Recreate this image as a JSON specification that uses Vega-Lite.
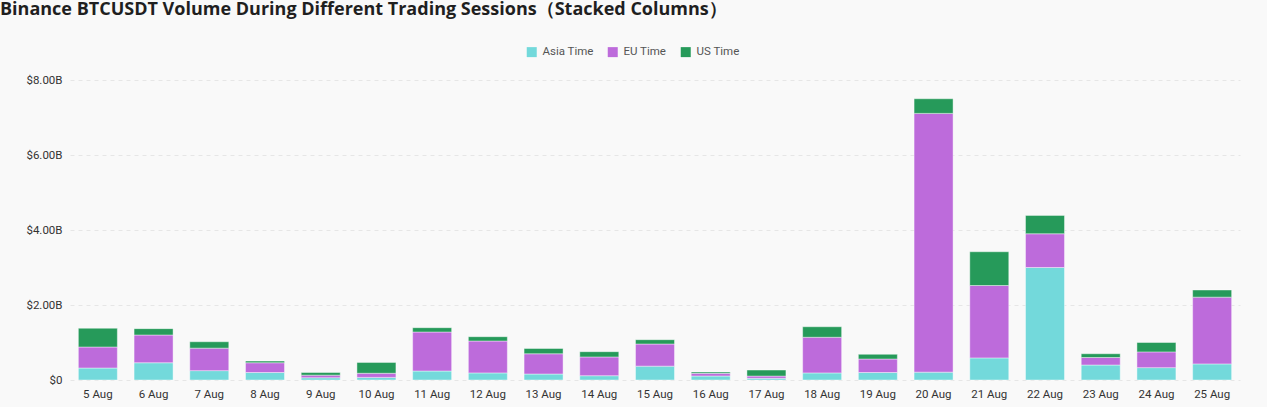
{
  "$schema": "https://vega.github.io/schema/vega-lite/v6.json",
  "width": 1170,
  "height": 300,
  "autosize": "none",
  "padding": {"left": 70, "top": 80, "right": 27, "bottom": 27},
  "background": "#f9f9f9",
  "title": {
    "text": "Binance BTCUSDT Volume During Different Trading Sessions（Stacked Columns）",
    "anchor": "start",
    "frame": "group",
    "dx": -70,
    "offset": 13,
    "baseline": "alphabetic",
    "font": "Open Sans",
    "fontSize": 18,
    "fontWeight": "bold",
    "color": "#1f1f1f"
  },
  "data": {
    "values": [
      {"date": "5 Aug", "session": "Asia Time", "volume": 0.32},
      {"date": "5 Aug", "session": "EU Time", "volume": 0.56},
      {"date": "5 Aug", "session": "US Time", "volume": 0.50},
      {"date": "6 Aug", "session": "Asia Time", "volume": 0.46},
      {"date": "6 Aug", "session": "EU Time", "volume": 0.74},
      {"date": "6 Aug", "session": "US Time", "volume": 0.17},
      {"date": "7 Aug", "session": "Asia Time", "volume": 0.25},
      {"date": "7 Aug", "session": "EU Time", "volume": 0.60},
      {"date": "7 Aug", "session": "US Time", "volume": 0.17},
      {"date": "8 Aug", "session": "Asia Time", "volume": 0.20},
      {"date": "8 Aug", "session": "EU Time", "volume": 0.26},
      {"date": "8 Aug", "session": "US Time", "volume": 0.045},
      {"date": "9 Aug", "session": "Asia Time", "volume": 0.06},
      {"date": "9 Aug", "session": "EU Time", "volume": 0.07},
      {"date": "9 Aug", "session": "US Time", "volume": 0.07},
      {"date": "10 Aug", "session": "Asia Time", "volume": 0.07},
      {"date": "10 Aug", "session": "EU Time", "volume": 0.11},
      {"date": "10 Aug", "session": "US Time", "volume": 0.29},
      {"date": "11 Aug", "session": "Asia Time", "volume": 0.24},
      {"date": "11 Aug", "session": "EU Time", "volume": 1.04},
      {"date": "11 Aug", "session": "US Time", "volume": 0.115},
      {"date": "12 Aug", "session": "Asia Time", "volume": 0.19},
      {"date": "12 Aug", "session": "EU Time", "volume": 0.85},
      {"date": "12 Aug", "session": "US Time", "volume": 0.115},
      {"date": "13 Aug", "session": "Asia Time", "volume": 0.16},
      {"date": "13 Aug", "session": "EU Time", "volume": 0.54},
      {"date": "13 Aug", "session": "US Time", "volume": 0.14},
      {"date": "14 Aug", "session": "Asia Time", "volume": 0.115},
      {"date": "14 Aug", "session": "EU Time", "volume": 0.50},
      {"date": "14 Aug", "session": "US Time", "volume": 0.14},
      {"date": "15 Aug", "session": "Asia Time", "volume": 0.37},
      {"date": "15 Aug", "session": "EU Time", "volume": 0.59},
      {"date": "15 Aug", "session": "US Time", "volume": 0.115},
      {"date": "16 Aug", "session": "Asia Time", "volume": 0.107},
      {"date": "16 Aug", "session": "EU Time", "volume": 0.07},
      {"date": "16 Aug", "session": "US Time", "volume": 0.036},
      {"date": "17 Aug", "session": "Asia Time", "volume": 0.045},
      {"date": "17 Aug", "session": "EU Time", "volume": 0.06},
      {"date": "17 Aug", "session": "US Time", "volume": 0.16},
      {"date": "18 Aug", "session": "Asia Time", "volume": 0.19},
      {"date": "18 Aug", "session": "EU Time", "volume": 0.95},
      {"date": "18 Aug", "session": "US Time", "volume": 0.28},
      {"date": "19 Aug", "session": "Asia Time", "volume": 0.20},
      {"date": "19 Aug", "session": "EU Time", "volume": 0.36},
      {"date": "19 Aug", "session": "US Time", "volume": 0.125},
      {"date": "20 Aug", "session": "Asia Time", "volume": 0.21},
      {"date": "20 Aug", "session": "EU Time", "volume": 6.90},
      {"date": "20 Aug", "session": "US Time", "volume": 0.39},
      {"date": "21 Aug", "session": "Asia Time", "volume": 0.59},
      {"date": "21 Aug", "session": "EU Time", "volume": 1.93},
      {"date": "21 Aug", "session": "US Time", "volume": 0.90},
      {"date": "22 Aug", "session": "Asia Time", "volume": 3.00},
      {"date": "22 Aug", "session": "EU Time", "volume": 0.90},
      {"date": "22 Aug", "session": "US Time", "volume": 0.49},
      {"date": "23 Aug", "session": "Asia Time", "volume": 0.40},
      {"date": "23 Aug", "session": "EU Time", "volume": 0.20},
      {"date": "23 Aug", "session": "US Time", "volume": 0.10},
      {"date": "24 Aug", "session": "Asia Time", "volume": 0.33},
      {"date": "24 Aug", "session": "EU Time", "volume": 0.42},
      {"date": "24 Aug", "session": "US Time", "volume": 0.25},
      {"date": "25 Aug", "session": "Asia Time", "volume": 0.43},
      {"date": "25 Aug", "session": "EU Time", "volume": 1.78},
      {"date": "25 Aug", "session": "US Time", "volume": 0.19}
    ]
  },
  "mark": {"type": "bar", "stroke": "#ffffff", "strokeWidth": 0.6, "strokeOpacity": 0.7},
  "encoding": {
    "x": {
      "field": "date",
      "type": "nominal",
      "sort": null,
      "scale": {"paddingInner": 0.3, "paddingOuter": 0.15},
      "axis": {
        "title": null,
        "labelAngle": 0,
        "labelFont": "Roboto",
        "labelFontSize": 11.5,
        "labelColor": "#333333",
        "labelPadding": 8,
        "ticks": false,
        "domain": false,
        "grid": false
      }
    },
    "y": {
      "field": "volume",
      "type": "quantitative",
      "stack": "zero",
      "scale": {"domain": [0, 8]},
      "axis": {
        "title": null,
        "values": [0, 2, 4, 6, 8],
        "labelExpr": "datum.value == 0 ? '$0' : '$' + format(datum.value, '.2f') + 'B'",
        "labelFont": "Roboto",
        "labelFontSize": 11.5,
        "labelColor": "#333333",
        "labelPadding": 8,
        "ticks": false,
        "domain": false,
        "grid": true,
        "gridColor": "#e6e6e6",
        "gridDash": [4, 4],
        "gridWidth": 1
      }
    },
    "color": {
      "field": "session",
      "type": "nominal",
      "scale": {
        "domain": ["Asia Time", "EU Time", "US Time"],
        "range": ["#73d9db", "#bd6bdb", "#269a5a"]
      },
      "legend": {
        "title": null,
        "orient": "none",
        "direction": "horizontal",
        "legendX": 456,
        "legendY": -34,
        "symbolType": "square",
        "symbolSize": 100,
        "symbolStrokeWidth": 0,
        "labelFont": "Roboto",
        "labelFontSize": 11.5,
        "labelColor": "#555555",
        "labelOffset": 5,
        "columnPadding": 13
      }
    },
    "order": {"field": "session", "sort": "ascending"}
  },
  "config": {"view": {"stroke": null}}
}
